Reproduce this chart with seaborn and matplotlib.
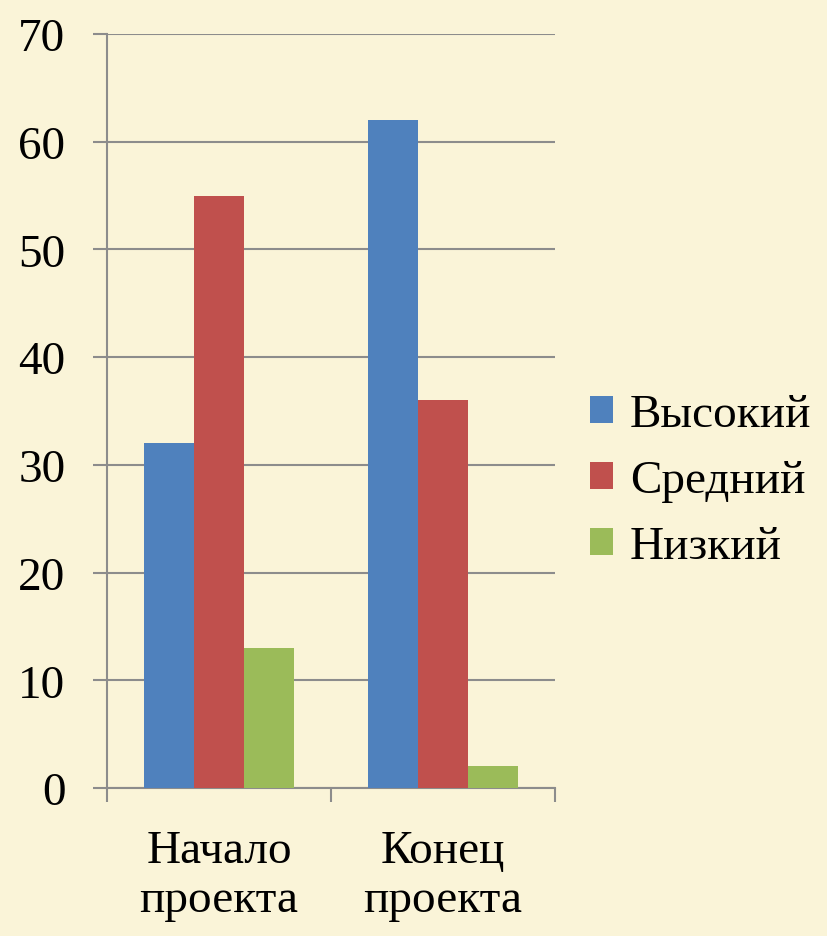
import pandas as pd
import matplotlib.pyplot as plt
import seaborn as sns

stages = ["Начало\nпроекта", "Конец\nпроекта"]
levels = ["Высокий", "Средний", "Низкий"]
high = [32, 62]
mid = [55, 36]
low = [13, 2]
colors = ["#4F81BD", "#C0504D", "#9BBB59"]

df = pd.DataFrame({
    "stage": stages * 3,
    "level": [levels[0]] * 2 + [levels[1]] * 2 + [levels[2]] * 2,
    "value": high + mid + low,
})

bg = "#FAF4D8"
grid_c = "#8C8C8C"
fs = 34

plt.rcParams["font.family"] = "Liberation Serif"
plt.rcParams["font.size"] = fs

fig = plt.figure(figsize=(8.27, 9.37), dpi=100, facecolor=bg)
ax = fig.add_axes([0.1294, 0.158, 0.5417, 0.8046])
ax.set_facecolor(bg)

sns.barplot(data=df, x="stage", y="value", hue="level", palette=colors,
            saturation=1, width=0.67, linewidth=0, errorbar=None, ax=ax,
            zorder=3)

ax.set_ylim(0, 70)
ax.set_xlim(-0.5, 1.5)
ax.set_yticks(range(0, 71, 10))
ax.yaxis.grid(True, color=grid_c, linewidth=1.5, zorder=0)
ax.set_axisbelow(True)

# boundary ticks between categories, labels on minor ticks
ax.set_xticks([-0.5, 0.5, 1.5])
ax.set_xticklabels([])
ax.set_xticks([0, 1], minor=True)
ax.set_xticklabels(stages, minor=True, linespacing=1.2)
ax.tick_params(axis="x", which="major", length=10, width=1.5, color=grid_c,
               direction="out", bottom=True)
ax.tick_params(axis="x", which="minor", length=0, pad=30, labelsize=fs)
ax.tick_params(axis="y", length=10, width=1.5, color=grid_c, direction="out",
               left=True, pad=20, labelsize=fs)

for s in ["top", "right"]:
    ax.spines[s].set_visible(False)
for s in ["left", "bottom"]:
    ax.spines[s].set_color(grid_c)
    ax.spines[s].set_linewidth(1.5)

ax.set_xlabel("")
ax.set_ylabel("")

ax.legend(loc="center left", bbox_to_anchor=(1.035, 0.407), frameon=False,
          fontsize=fs, handlelength=0.5, handleheight=0.5,
          handletextpad=0.35, labelspacing=0.5, borderaxespad=0)

fig.savefig("out.png", dpi=100, facecolor=bg)
